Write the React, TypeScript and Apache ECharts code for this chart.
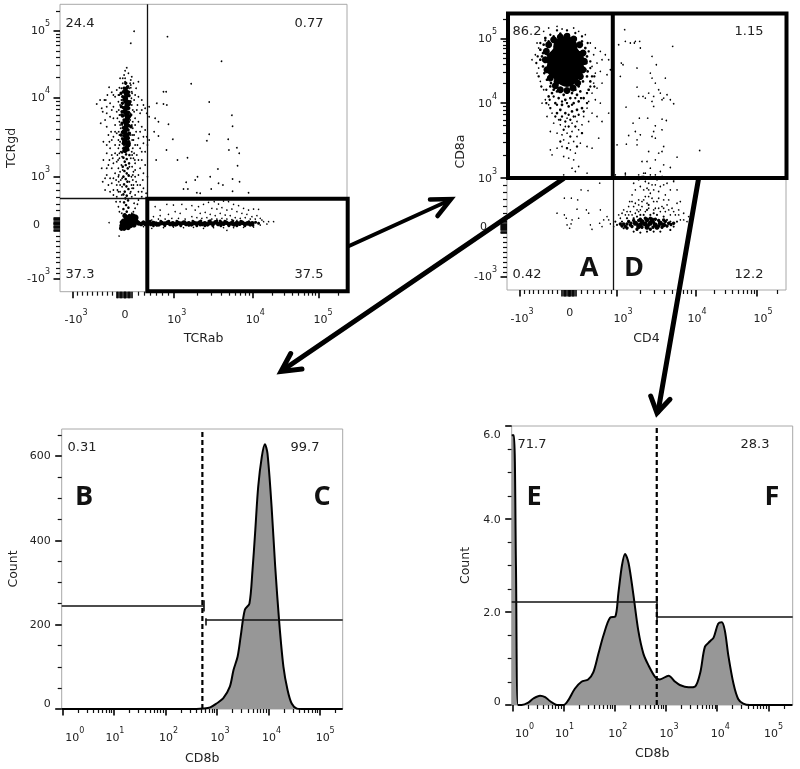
import React, { useEffect, useRef } from "react";
import * as echarts from "echarts";

// ---- Panel 1 (TCRab / TCRgd), values in display channels ----
const p1Sparse = [[322,765],[484,691],[393,624],[447,569],[515,529],[517,496],[447,472],[440,453],[338,457],[319,425],[288,395],[352,395],[382,402],[504,457],[506,425],[530,432],[537,415],[532,378],[473,368],[450,345],[412,345],[405,335],[378,328],[517,338],[538,330],[475,325],[488,320],[370,308],[383,308],[410,297],[420,295],[453,308],[517,301],[565,297],[310,600],[318,600],[267,555],[290,565],[310,563],[320,560],[267,525],[285,520],[295,510],[325,502],[282,480],[295,467],[267,455],[222,781],[212,745],[203,863],[210,863]];
const p1Halo = [[195,663],[205,655],[212,635],[220,625],[235,630],[170,605],[155,598],[147,613],[133,575],[110,563],[125,550],[137,575],[165,585],[175,570],[190,600],[215,600],[225,590],[235,585],[245,575],[250,560],[230,545],[240,535],[255,550],[140,555],[155,545],[170,540],[150,525],[135,515],[140,495],[153,480],[165,500],[172,520],[225,520],[235,510],[245,495],[228,480],[215,500],[255,485],[250,465],[235,460],[220,455],[160,465],[145,470],[148,450],[165,440],[175,455],[150,430],[165,415],[158,400],[170,390],[140,415],[130,395],[125,370],[145,380],[155,370],[175,370],[225,440],[240,430],[250,445],[255,420],[230,410],[245,395],[225,385],[215,420],[240,370],[255,380],[220,360],[235,350],[250,355],[140,350],[150,340],[165,355],[175,345],[155,325],[145,320],[170,320],[160,305],[175,300],[185,290],[228,330],[240,320],[220,310],[235,300],[250,310],[210,295],[225,290],[245,285],[180,560],[185,540],[215,560],[222,540],[178,510],[182,490],[218,490],[222,470],[176,480],[178,440],[182,420],[218,430],[220,400],[178,400],[184,380],[216,375],[180,360],[214,345],[182,335],[186,315],[214,320],[212,300],[186,340],[176,330],[208,330],[205,350],[190,345],[188,365],[208,375],[212,400],[186,405],[188,430],[210,445],[185,460],[212,470],[186,500],[210,515],[186,525],[210,535],[184,575],[214,580],[195,630],[188,625],[200,615],[207,610]];
const p1HaloB = [[160,590],[178,612],[212,612],[228,610],[142,590],[120,575],[128,540],[150,565],[160,555],[175,590],[222,575],[232,560],[245,545],[260,535],[140,535],[160,520],[122,505],[130,450],[140,440],[155,455],[170,475],[165,480],[178,530],[225,500],[240,480],[260,465],[232,440],[245,420],[262,440],[155,410],[148,395],[160,385],[172,410],[175,430],[222,415],[235,395],[225,365],[248,335],[262,345],[140,370],[135,340],[128,330],[160,340],[168,335],[172,305],[150,300],[135,305],[225,345],[218,335],[232,320],[245,300],[258,295],[170,285],[160,290],[215,285],[235,275],[180,270],[222,265],[175,255],[225,250],[178,240],[220,240],[185,235],[215,235],[168,270],[232,262],[180,300],[216,310],[180,320],[220,320],[176,350],[218,350],[174,395],[224,395],[178,415],[216,410],[180,450],[216,455],[178,470],[218,470],[180,500],[218,510],[176,545],[218,545],[178,590],[216,595],[184,610],[212,620],[180,640],[215,645],[192,650],[188,640],[210,625],[195,640],[200,672]];
const p1Streak = [[198,600],[200,590],[196,580],[199,570],[201,560],[197,550],[195,540],[200,530],[202,520],[196,510],[199,500],[197,490],[193,480],[201,470],[198,460],[194,450],[203,440],[199,430],[195,424]];
const p1StreakB = [[190,600],[206,598],[188,585],[207,588],[191,575],[205,570],[187,565],[208,562],[190,552],[206,550],[186,540],[205,538],[189,528],[208,525],[192,515],[205,510],[186,505],[207,498],[190,492],[204,485],[187,478],[208,475],[191,468],[205,460],[188,458],[206,450],[192,442],[200,448],[196,470],[203,500],[195,595],[199,610],[203,615],[197,625],[192,610],[185,530],[212,530],[210,570],[184,555],[183,595],[213,495],[183,470]];
const p1StreakThin = [[188,445],[208,440],[192,432],[205,425],[186,418],[198,412],[208,410],[190,402],[200,398],[194,390],[207,385],[197,380],[188,375],[203,370],[193,362],[200,355],[206,348],[190,345],[197,338],[202,330],[192,322],[199,316],[205,308],[194,300],[190,292],[200,288],[196,280],[204,274],[192,268],[198,260],[205,252],[190,248],[200,240],[194,232],[205,226]];
const p1Knot = [[192,205],[200,210],[208,215],[215,218],[222,212],[205,205],[195,197],[215,205],[225,222]];
const p1KnotB = [[185,198],[190,212],[198,222],[208,226],[218,228],[226,214],[232,208],[186,208],[212,198],[222,200],[200,198],[194,228],[184,190],[192,190],[204,192]];
const p1BandCore = [[235,205],[243,203],[250,207],[256,203],[262,205],[272,203],[280,206],[288,204],[296,202],[305,206],[314,204],[322,207],[330,203],[338,205],[346,202],[354,206],[362,204],[370,207],[378,203],[386,205],[394,202],[402,206],[410,204],[418,207],[426,203],[434,205],[442,202],[450,206],[458,204],[466,208],[474,203],[482,206],[490,204],[498,207],[506,203],[514,205],[522,202],[530,206],[538,204],[546,207],[554,203],[562,205],[570,202],[576,205]];
const p1BandB = [[290,199],[302,211],[314,198],[326,211],[338,199],[350,211],[362,198],[374,210],[386,199],[398,211],[410,198],[422,212],[434,198],[446,211],[458,198],[470,212],[482,198],[494,211],[506,198],[518,212],[530,198],[542,211],[554,198],[566,210],[578,199],[270,211],[280,198],[586,208],[595,205],[350,201],[420,200],[450,213],[480,212],[520,200]];
const p1BandHalo = [[285,255],[300,245],[320,262],[340,260],[365,262],[345,240],[325,232],[300,228],[280,225],[360,235],[378,248],[395,258],[405,245],[415,255],[430,262],[445,268],[462,270],[475,263],[490,272],[505,270],[520,262],[535,258],[550,250],[565,245],[580,248],[595,247],[455,250],[470,248],[485,252],[500,245],[515,248],[530,240],[545,235],[560,232],[575,225],[590,228],[420,235],[435,238],[450,232],[465,228],[480,235],[495,230],[510,228],[525,222],[540,220],[555,222],[570,218],[585,218],[600,220],[395,225],[410,222],[425,220],[440,222],[455,218],[470,218],[485,220],[500,218],[515,216],[530,214],[375,218],[355,220],[335,220],[315,218],[295,218],[275,215],[310,192],[340,194],[370,192],[400,193],[430,190],[460,192],[490,192],[500,184],[520,192],[550,193],[580,194],[600,200],[610,210],[605,215],[620,203],[625,210],[640,210],[147,207],[177,167],[265,195],[275,190],[250,195]];

// ---- Panel 2 (CD4 / CD8a), values in display channels ----
const p2Blob = [[175,720],[160,700],[190,700],[175,690],[160,670],[190,670],[175,650],[180,640],[170,645],[150,690],[200,690],[150,665],[200,665],[170,728],[180,728],[165,655],[190,650]];
const p2BlobRim = [[115,690],[118,715],[125,735],[140,750],[160,758],[180,760],[200,752],[218,735],[228,710],[232,685],[228,660],[220,640],[212,620],[198,605],[180,598],[160,600],[145,612],[130,635],[120,660],[150,625]];
const p2BlobEdge = [[105,700],[100,690],[108,670],[112,650],[118,720],[110,735],[125,745],[140,760],[160,768],[185,765],[205,755],[225,745],[235,725],[240,700],[238,680],[235,660],[240,640],[228,625],[215,610],[205,600],[195,590],[170,585],[150,595],[130,610],[120,630],[135,590],[155,575],[175,570],[190,575],[210,585],[220,595],[145,560],[165,555],[185,550],[200,560],[215,565],[230,575],[125,580],[245,600],[250,625],[160,540],[175,530],[195,535],[210,540],[225,545],[150,530],[140,600],[132,620],[126,690],[128,665],[122,705],[218,712],[222,690],[218,665],[220,640],[108,710],[100,720],[115,755],[230,705],[242,655]];
const p2EdgeB = [[100,740],[92,700],[88,680],[95,640],[103,610],[118,600],[128,570],[140,580],[150,555],[165,565],[180,560],[195,555],[205,575],[222,575],[240,590],[250,610],[255,640],[250,665],[250,685],[245,715],[242,740],[225,760],[205,770],[180,778],[150,778],[130,765],[115,748],[165,520],[185,525],[200,520],[175,505],[190,510],[145,520],[215,525],[160,510],[230,535],[240,560],[130,545],[118,560],[262,610],[262,640],[205,490],[170,480],[185,490],[225,470],[190,460],[160,445],[210,430],[180,425]];
const p2BlobHalo = [[110,775],[125,785],[150,790],[165,782],[200,785],[215,775],[235,765],[250,740],[265,725],[280,715],[295,705],[305,690],[285,690],[270,680],[260,705],[255,670],[265,650],[280,655],[300,645],[310,660],[90,740],[95,725],[85,705],[75,690],[95,665],[90,650],[100,625],[110,600],[260,620],[270,605],[285,620],[255,590],[265,570],[245,565],[280,560],[240,545],[255,530],[230,520],[205,520],[180,515],[155,510],[135,530],[125,555],[115,570],[105,560],[120,520],[140,500],[160,495],[175,490],[195,500],[210,505],[225,495],[245,505],[270,520],[305,530],[285,505],[215,480],[195,475],[180,470],[165,465],[150,470],[200,445],[185,440],[170,450],[210,460],[165,430],[190,420],[205,410],[150,425],[170,400],[185,395],[200,390],[220,440],[275,455],[240,430],[130,475],[215,370],[205,355],[130,420],[135,405],[170,345],[255,425],[195,365],[185,335]];
const p2UpperRight = [[353,780],[335,735],[355,745],[370,740],[385,745],[398,745],[382,740],[400,725],[497,730],[435,700],[343,680],[348,675],[390,665],[448,675],[430,650],[435,635],[475,635],[340,640],[445,620],[390,608],[455,600],[425,590],[395,580],[408,580],[415,575],[440,580],[460,590],[480,585],[470,575],[490,570],[500,558],[435,565],[440,550],[465,570],[357,548],[397,515],[422,515],[465,512],[478,508],[378,500],[445,492],[440,475],[465,480],[385,475],[365,463],[400,465],[390,450],[435,460],[445,455],[470,430],[358,437],[330,435],[390,435],[425,415],[455,410],[465,415],[510,398],[578,418],[405,385],[420,385],[445,390],[470,375],[490,367],[430,365],[460,355],[410,350],[355,350]];
const p2LowerLeft = [[240,350],[278,320],[222,300],[243,298],[172,275],[193,275],[212,270],[150,230],[172,225],[178,215],[210,242],[238,240],[245,230],[280,240],[180,195],[192,198],[215,215],[195,210],[188,185],[250,195],[255,182],[278,200],[300,220],[305,210],[290,210],[285,190],[310,198],[320,190]];
const p2LowerCore = [[385,200],[400,195],[415,198],[430,200],[445,195],[460,200],[420,188],[405,205],[435,210],[395,190],[450,188],[420,210],[470,195]];
const p2LowerFill = [[350,198],[355,190],[365,205],[375,190],[380,208],[390,198],[395,208],[405,188],[410,198],[425,195],[438,188],[440,202],[455,192],[455,208],[465,188],[475,205],[480,192],[485,200],[345,192],[360,186],[372,200],[390,182],[430,182],[445,212],[470,210],[415,215],[400,212],[430,215],[492,196],[500,200],[360,198],[340,198],[370,195]];
const p2LowerEdge = [[420,240],[425,255],[430,225],[410,225],[440,230],[400,225],[450,225],[470,220],[380,215],[390,220],[360,215],[480,210],[490,205],[350,185],[345,205],[500,190],[490,180],[420,175],[440,175],[400,172],[460,175],[330,195],[325,205],[510,205],[380,175]];
const p2LowerPlume = [[368,265],[385,260],[395,255],[410,270],[420,260],[435,275],[450,265],[465,250],[480,255],[495,245],[510,260],[520,265],[370,235],[390,240],[380,250],[445,245],[460,235],[475,235],[490,225],[505,225],[350,240],[355,225],[365,225],[405,250],[430,290],[420,305],[410,300],[440,300],[425,320],[415,325],[435,335],[405,340],[450,330],[460,335],[475,285],[490,300],[500,325],[455,295],[395,330],[470,315],[385,300],[375,285],[530,210],[540,205],[395,345],[410,340],[445,345],[465,340],[500,330],[355,345],[325,345]];
const p2LowerPlumeB = [[340,215],[335,225],[345,230],[360,235],[375,225],[385,230],[395,235],[400,240],[415,235],[425,245],[440,240],[455,245],[470,245],[485,240],[500,235],[515,225],[520,210],[515,240],[395,270],[405,265],[415,280],[425,280],[440,265],[455,275],[470,270],[485,270],[365,250],[375,265],[425,300],[435,315],[445,315],[415,350],[430,345],[420,335],[380,320],[400,310],[460,310],[480,320],[510,300],[530,230],[545,220],[550,195]];

// ---- Histograms: x in decades of CD8b, y = count ----
const p3Decades = [-0.013,2.6,2.74,2.87,2.99,3.12,3.25,3.32,3.40,3.46,3.54,3.63,3.69,3.74,3.80,3.87,3.93,3.98,4.06,4.13,4.21,4.29,4.37,4.45,4.55,4.64,5.44];
const p3Counts = [0,0,1,4,13,25,53,92,124,172,235,250,330,417,527,598,628,606,480,338,203,100,45,13,1,0,0];
const p4Decades = [-0.013,0.03,0.07,0.11,0.18,0.31,0.41,0.54,0.64,0.74,0.87,1.0,1.09,1.22,1.35,1.48,1.58,1.68,1.78,1.91,2.01,2.07,2.14,2.2,2.27,2.36,2.46,2.56,2.66,2.79,2.88,3.05,3.18,3.27,3.44,3.57,3.67,3.76,3.86,3.93,4.02,4.09,4.15,4.22,4.32,4.41,4.51,4.64,5.47];
const p4Counts = [5.8,5.8,3,0,0,0.05,0.14,0.2,0.17,0.08,0,0,0.1,0.35,0.5,0.55,0.7,1.1,1.5,1.88,1.9,2.4,3.0,3.25,3.05,2.4,1.6,1.1,0.85,0.6,0.55,0.63,0.5,0.43,0.38,0.4,0.7,1.25,1.37,1.45,1.75,1.78,1.6,1.05,0.45,0.13,0.03,0,0];

const biexLabels = ["-10{3}", "0p", "10{3}", "10{4}", "10{5}"];
const fontFamily = '"DejaVu Sans", sans-serif';

const rich = {
  a: { fontSize: 11, fontFamily, color: "#222" },
  z: { fontSize: 11, fontFamily, color: "#222", padding: [0, 0, 0, 0] },
  y: { fontSize: 11, fontFamily, color: "#222", padding: [0, 10, 0, 0] },
  s: { fontSize: 8, fontFamily, color: "#222", verticalAlign: "top", lineHeight: 22 },
};
const fmt = (t: string) =>
  t === "0p" ? "{z|0}" : t === "0y" ? "{y|0}" : t.replace(/^(-?10)\{(\d)\}$/, "{a|$1}{s|$2}").replace(/^(\d+(\.\d+)?)$/, "{a|$1}");

function decade(a: number, b: number) {
  return [2, 3, 4, 5, 6, 7, 8, 9].map((n) => a + (b - a) * Math.log10(n));
}
function linear(a: number, b: number, n: number) {
  return Array.from({ length: n - 1 }, (_, i) => a + ((b - a) * (i + 1)) / n);
}
function block(a: number, b: number, step: number) {
  const r: number[] = [];
  for (let v = a; v <= b; v += step) r.push(v);
  return r;
}

type AxisSpec = {
  grid: number; name: string; nameGap: number; min: number; max: number;
  major: number[]; minor: number[]; labelAt: number[]; labels: string[]; margin: number;
};
function axisPair(spec: AxisSpec, pos: "bottom" | "left") {
  const base = {
    gridIndex: spec.grid, type: "value", position: pos, min: spec.min, max: spec.max,
    splitLine: { show: false }, axisLine: { show: false, onZero: false },
  };
  return [
    {
      ...base, name: spec.name, nameLocation: "middle", nameGap: spec.nameGap,
      nameTextStyle: { fontSize: 12.5, fontFamily, color: "#222" },
      axisTick: { show: true, length: 6.5, customValues: spec.major, lineStyle: { color: "#000", width: 1.6 } },
      axisLabel: {
        show: true, margin: spec.margin, customValues: spec.labelAt, rich, hideOverlap: false,
        showMinLabel: true, showMaxLabel: true,
        formatter: (v: number) => {
          const i = spec.labelAt.findIndex((x) => Math.abs(x - v) < 1e-6);
          return fmt(spec.labels[i] ?? "");
        },
      },
    },
    {
      ...base,
      axisTick: { show: true, length: 4, customValues: spec.minor, lineStyle: { color: "#111", width: 1.2 } },
      axisLabel: { show: false },
    },
  ];
}

const xSpecs: AxisSpec[] = [
  { grid: 0, name: "TCRab", nameGap: 39, min: 0, max: 860, margin: 17,
    major: [37, 195, 342, 577, 775, ...block(170, 215, 4)],
    minor: [...linear(37, 170, 9), ...linear(215, 342, 7), ...decade(342, 577), ...decade(577, 775), 835],
    labelAt: [48, 195, 350, 585, 788], labels: biexLabels },
  { grid: 1, name: "CD4", nameGap: 41, min: 0, max: 837, margin: 17,
    major: [37, 188, 330, 565, 750, ...block(165, 205, 4)],
    minor: [...linear(37, 165, 9), ...linear(205, 330, 7), ...decade(330, 565), ...decade(565, 750), 810],
    labelAt: [45, 188, 348, 570, 768], labels: biexLabels },
  { grid: 2, name: "CD8b", nameGap: 42, min: -0.013, max: 5.44, margin: 17,
    major: [0, 1, 2, 3, 4, 5],
    minor: [0, 1, 2, 3, 4].flatMap((d) => decade(d, d + 1)).concat(decade(5, 6).filter((v) => v < 5.44)),
    labelAt: [0.24, 1.02, 2.06, 3.06, 4.06, 5.1], labels: ["10{0}", "10{1}", "10{2}", "10{3}", "10{4}", "10{5}"] },
  { grid: 3, name: "CD8b", nameGap: 41, min: -0.013, max: 5.475, margin: 17,
    major: [0, 1, 2, 3, 4, 5],
    minor: [0, 1, 2, 3, 4].flatMap((d) => decade(d, d + 1)).concat(decade(5, 6).filter((v) => v < 5.47)),
    labelAt: [0.24, 1.02, 2.06, 3.06, 4.06, 5.1], labels: ["10{0}", "10{1}", "10{2}", "10{3}", "10{4}", "10{5}"] },
];
const ySpecs: AxisSpec[] = [
  { grid: 0, name: "TCRgd", nameGap: 43, min: 0, max: 862, margin: 10,
    major: [40, 203, 345, 583, 782, ...block(183, 223, 4)],
    minor: [...linear(40, 183, 9), ...linear(223, 345, 6), ...decade(345, 583), ...decade(583, 782), 842],
    labelAt: [40, 203, 345, 583, 782], labels: ["-10{3}", "0y", "10{3}", "10{4}", "10{5}"] },
  { grid: 1, name: "CD8a", nameGap: 41, min: 0, max: 830, margin: 10,
    major: [40, 190, 335, 560, 753, ...block(172, 208, 4)],
    minor: [...linear(40, 172, 9), ...linear(208, 335, 6), ...decade(335, 560), ...decade(560, 753), 812],
    labelAt: [40, 190, 335, 560, 753], labels: ["-10{3}", "0y", "10{3}", "10{4}", "10{5}"] },
  { grid: 2, name: "Count", nameGap: 43, min: 0, max: 664, margin: 11,
    major: [0, 200, 400, 600], minor: [50, 100, 150, 250, 300, 350, 450, 500, 550, 650],
    labelAt: [12, 200, 400, 600], labels: ["0", "200", "400", "600"] },
  { grid: 3, name: "Count", nameGap: 41, min: 0, max: 6, margin: 11,
    major: [0, 2, 4, 6], minor: [0.5, 1, 1.5, 2.5, 3, 3.5, 4.5, 5, 5.5],
    labelAt: [0.08, 1.98, 3.98, 5.82], labels: ["0", "2.0", "4.0", "6.0"] },
];

function scatter(panel: number, data: number[][], size: number, extra: object = {}) {
  return {
    type: "scatter", xAxisIndex: panel * 2, yAxisIndex: panel * 2, data,
    symbolSize: size, itemStyle: { color: "#000", opacity: 1 }, silent: true, ...extra,
  };
}
const seg = (x0: number, y0: number, x1: number, y1: number) => [{ coord: [x0, y0] }, { coord: [x1, y1] }];
const thinLines = (data: any[], width = 1.3, type: any = "solid") => ({
  silent: true, symbol: "none", label: { show: false }, animation: false,
  lineStyle: { color: "#111", width, type, opacity: 1 }, data,
});
function hist(panel: number, xs: number[], ys: number[], mark: any) {
  return {
    type: "line", xAxisIndex: panel * 2, yAxisIndex: panel * 2, showSymbol: false, symbol: "none",
    smooth: 0.3, silent: true,
    data: xs.map((x, i) => [x, ys[i]]),
    lineStyle: { color: "#000", width: 2 }, areaStyle: { color: "#979797", opacity: 1, origin: "start" },
    markLine: thinLines(mark.solid, 1.6),
  };
}
function dashed(panel: number, x: number, top: number) {
  return {
    type: "line", xAxisIndex: panel * 2, yAxisIndex: panel * 2, symbol: "none", silent: true,
    data: [[x, 0], [x, top]],
    lineStyle: { color: "#000", width: 2.2, type: [5, 3] }, z: 5,
  };
}

const txt = (text: string, x: number, y: number, fontSize = 13, weight: any = "normal", family = fontFamily, fill = "#222") => ({
  type: "text", z: 100, silent: true,
  style: { text, x, y, fontSize, fontWeight: weight, fontFamily: family, fill, textAlign: "center", textVerticalAlign: "middle", verticalAlign: "middle", align: "center" },
});
const stroke = (lineWidth: number) => ({ stroke: "#000", lineWidth, fill: "none", lineJoin: "miter", lineCap: "butt" });
const gate = (x: number, y: number, w: number, h: number) => ({ type: "rect", z: 90, silent: true, shape: { x, y, width: w, height: h }, style: stroke(4) });
const shaft = (x1: number, y1: number, x2: number, y2: number, w: number) => ({ type: "line", z: 95, silent: true, shape: { x1, y1, x2, y2 }, style: { ...stroke(w), lineCap: "round" } });
const head = (pts: number[][], w: number) => ({ type: "polyline", z: 95, silent: true, shape: { points: pts }, style: { ...stroke(w), lineCap: "round" } });

const labelText: [string, number, number][] = [
  ["24.4", 80, 22], ["0.77", 309, 22], ["37.3", 80, 273], ["37.5", 309, 273],
  ["86.2", 527, 30], ["1.15", 749, 30], ["0.42", 527, 273], ["12.2", 749, 273],
  ["0.31", 82, 446], ["99.7", 305, 446], ["71.7", 532, 443], ["28.3", 755, 443],
];
const letterText: [string, number, number][] = [
  ["A", 589, 265], ["D", 634, 265], ["B", 84, 494], ["C", 322, 494], ["E", 534, 494], ["F", 772, 494],
];

export default function App() {
  const ref = useRef<HTMLDivElement>(null);
  useEffect(() => {
    document.body.style.margin = "0";
    const chart = echarts.init(ref.current!, undefined, { renderer: "svg" });
    const xAxis = xSpecs.flatMap((s) => axisPair(s, "bottom"));
    const yAxis = ySpecs.flatMap((s) => axisPair(s, "left"));
    chart.setOption({
      animation: false,
      backgroundColor: "#fff",
      grid: [
        { left: 60, top: 4.3, width: 287, height: 287.4 },
        { left: 507, top: 13, width: 279, height: 277 },
        { left: 61.7, top: 429, width: 281, height: 280 },
        { left: 511.7, top: 426, width: 281, height: 279 },
      ].map((g) => ({ ...g, show: true, borderColor: "#a8a8a8", borderWidth: 1, containLabel: false })),
      xAxis,
      yAxis,
      series: [
        scatter(0, p1Sparse, 1.7, { markLine: thinLines([seg(262, 281, 262, 862), seg(0, 281, 262, 281)]) }),
        scatter(0, p1Halo, 1.7),
        scatter(0, p1HaloB, 1.7),
        scatter(0, p1Streak, 5.5),
        scatter(0, p1StreakB, 3.4),
        scatter(0, p1StreakThin, 2.6),
        scatter(0, p1Knot, 7),
        scatter(0, p1KnotB, 5),
        scatter(0, p1BandCore, 4.6),
        scatter(0, p1BandB, 3),
        scatter(0, p1BandHalo, 1.5),
        scatter(1, p2BlobHalo, 1.6, { markLine: thinLines([seg(320, 0, 320, 335)]) }),
        scatter(1, p2BlobEdge, 2.7),
        scatter(1, p2EdgeB, 2.4),
        scatter(1, p2BlobRim, 7),
        scatter(1, p2Blob, 21),
        scatter(1, p2UpperRight, 1.6),
        scatter(1, p2LowerLeft, 1.5),
        scatter(1, p2LowerCore, 5),
        scatter(1, p2LowerFill, 3.4),
        scatter(1, p2LowerEdge, 2.2),
        scatter(1, p2LowerPlume, 1.6),
        scatter(1, p2LowerPlumeB, 1.6),
        hist(2, p3Decades, p3Counts, {
          solid: [seg(-0.013, 246, 2.75, 246), seg(2.78, 211, 5.44, 211), seg(2.75, 231, 2.75, 258), seg(2.78, 198, 2.78, 215)],
        }),
        dashed(2, 2.717, 664),
        hist(3, p4Decades, p4Counts, {
          solid: [seg(-0.013, 2.21, 2.82, 2.21), seg(2.82, 1.9, 5.475, 1.9), seg(2.82, 1.78, 2.82, 2.33)],
        }),
        dashed(3, 2.82, 6),
      ],
      graphic: [
        gate(147.3, 198.7, 200.4, 92.6),
        gate(508, 13.5, 278.5, 164.5),
        { type: "line", z: 90, silent: true, shape: { x1: 612.8, y1: 13.5, x2: 612.8, y2: 178 }, style: stroke(4) },
        shaft(349, 246, 449, 200.5, 4),
        head([[430, 199.5], [451, 199], [437.5, 216]], 4.5),
        shaft(563, 179, 283, 370, 5),
        head([[290.7, 353.5], [281, 371.5], [302, 369]], 5),
        shaft(698.5, 179, 658, 412, 5),
        head([[650.7, 396], [657, 413], [670, 399.3]], 5),
        ...labelText.map(([t, x, y]) => txt(t, x, y)),
        ...letterText.map(([t, x, y]) => txt(t, x, y, 27, 700, '"Open Sans", sans-serif', "#111")),
      ],
    });
    return () => chart.dispose();
  }, []);
  return (
    <div
      ref={ref}
      style={{ position: "absolute", left: 0, top: 0, width: 800, height: 769, filter: "blur(0.5px)" }}
    />
  );
}
